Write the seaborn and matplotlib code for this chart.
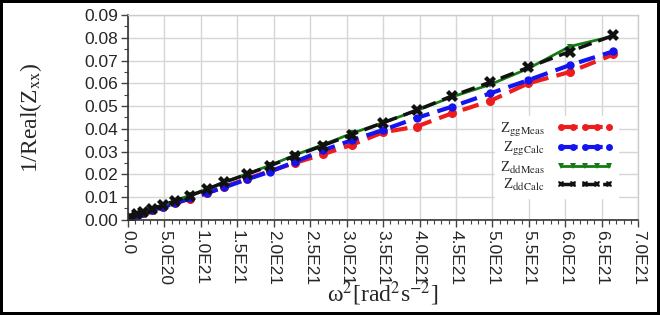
"""
1/Real(Zxx) 随 ω² 的变化: 实测与计算对比
"""

import numpy as np
import matplotlib.pyplot as plt
import seaborn as sns
from matplotlib.ticker import MultipleLocator

sns.set_style("white")
plt.rcParams["font.family"] = ["Liberation Sans", "DejaVu Sans"]
plt.rcParams["mathtext.fontset"] = "stix"

# ω² (单位 1E21 rad^2 s^-2)
omega2 = [0.03, 0.12, 0.21, 0.33, 0.48, 0.65, 0.85, 1.09, 1.32, 1.63, 1.95,
          2.29, 2.67, 3.07, 3.50, 3.96, 4.44, 4.97, 5.49, 6.06, 6.66]

gg_meas = [0.0010, 0.0020, 0.0029, 0.0042, 0.0057, 0.0073, 0.0093, 0.0118, 0.0145,
           0.0180, 0.0215, 0.0250, 0.0288, 0.0330, 0.0385, 0.0410, 0.0468, 0.0523,
           0.0600, 0.0650, 0.0727]
gg_calc = [0.0012, 0.0022, 0.0030, 0.0043, 0.0058, 0.0074, 0.0094, 0.0119, 0.0143,
           0.0178, 0.0212, 0.0255, 0.0305, 0.0350, 0.0395, 0.0448, 0.0497, 0.0556,
           0.0614, 0.0680, 0.0741]
dd_meas = [0.0013, 0.0025, 0.0034, 0.0049, 0.0066, 0.0085, 0.0108, 0.0137, 0.0166,
           0.0202, 0.0240, 0.0285, 0.0330, 0.0380, 0.0428, 0.0480, 0.0540, 0.0595,
           0.0665, 0.0762, 0.0808]
dd_calc = [0.0012, 0.0024, 0.0033, 0.0048, 0.0065, 0.0083, 0.0106, 0.0135, 0.0165,
           0.0200, 0.0238, 0.0281, 0.0326, 0.0375, 0.0427, 0.0482, 0.0544, 0.0605,
           0.0670, 0.0740, 0.0811]

x_ticks = [0.0, 0.5, 1.0, 1.5, 2.0, 2.5, 3.0, 3.5, 4.0, 4.5, 5.0, 5.5, 6.0, 6.5, 7.0]
x_tick_labels = ["0.0", "5.0E20", "1.0E21", "1.5E21", "2.0E21", "2.5E21", "3.0E21",
                 "3.5E21", "4.0E21", "4.5E21", "5.0E21", "5.5E21", "6.0E21",
                 "6.5E21", "7.0E21"]
y_ticks = [0.00, 0.01, 0.02, 0.03, 0.04, 0.05, 0.06, 0.07, 0.08, 0.09]

fig = plt.figure(figsize=(6.6, 3.15), dpi=100)
fig.patch.set_edgecolor("black")
fig.patch.set_linewidth(3)
ax = fig.add_axes([0.194, 0.302, 0.773, 0.650])

# 四条曲线
sns.lineplot(x=omega2, y=gg_meas, ax=ax, color="#ee1c1c", linestyle=(0, (4, 2)),
             linewidth=3, marker="o", markersize=6.5, markeredgewidth=0,
             label=r"Z$_{\rm ggMeas}$")
sns.lineplot(x=omega2, y=gg_calc, ax=ax, color="#1414ee", linestyle=(0, (4, 2)),
             linewidth=3, marker="o", markersize=6, markeredgewidth=0,
             label=r"Z$_{\rm ggCalc}$")
sns.lineplot(x=omega2, y=dd_meas, ax=ax, color="#157a15", linestyle="-",
             linewidth=2, marker="v", markersize=5, markeredgewidth=0,
             label=r"Z$_{\rm ddMeas}$")
sns.lineplot(x=omega2, y=dd_calc, ax=ax, color="#111111", linestyle=(0, (4, 2)),
             linewidth=2.5, marker="X", markersize=8, markeredgewidth=0,
             label=r"Z$_{\rm ddCalc}$")

ax.set_xlim(0, 7.0)
ax.set_ylim(0, 0.09)
ax.set_xticks(x_ticks)
ax.set_xticklabels(x_tick_labels, rotation=-90, fontsize=12.5)
ax.set_yticks(y_ticks)
ax.set_yticklabels([f"{v:.2f}" for v in y_ticks], fontsize=12.5)
ax.xaxis.set_minor_locator(MultipleLocator(0.1))
ax.yaxis.set_minor_locator(MultipleLocator(0.005))
ax.tick_params(which="major", direction="out", length=5, width=1, color="#444444",
               bottom=True, left=True, pad=2)
ax.tick_params(which="minor", direction="out", length=3, width=0.8, color="#444444",
               bottom=True, left=True)

ax.grid(True, which="major", color="#d6d6d6", linewidth=1)
ax.set_axisbelow(True)
for side in ["left", "bottom"]:
    ax.spines[side].set_color("#333333")
    ax.spines[side].set_linewidth(1.2)
for side in ["top", "right"]:
    ax.spines[side].set_color("#cccccc")
    ax.spines[side].set_linewidth(1)

ax.set_xlabel("ω$^2$[rad$^2$s$^{-2}$]", family="Liberation Serif", fontsize=17)
ax.set_ylabel(r"1/Real(Z$_{\rm xx}$)", family="Liberation Serif", fontsize=17)
ax.xaxis.set_label_coords(0.5, -0.29)
ax.yaxis.set_label_coords(-0.165, 0.5)

leg = ax.legend(loc="lower right", bbox_to_anchor=(0.975, 0.07), markerfirst=False,
                numpoints=5, handlelength=3.7, handletextpad=0.8, labelspacing=0.1,
                frameon=True, framealpha=1, edgecolor="white", fancybox=False,
                borderpad=0.3, prop={"family": "Liberation Serif", "size": 11})
for h in leg.get_lines():
    h.set_markersize(5)

fig.savefig("out.png", dpi=100)
